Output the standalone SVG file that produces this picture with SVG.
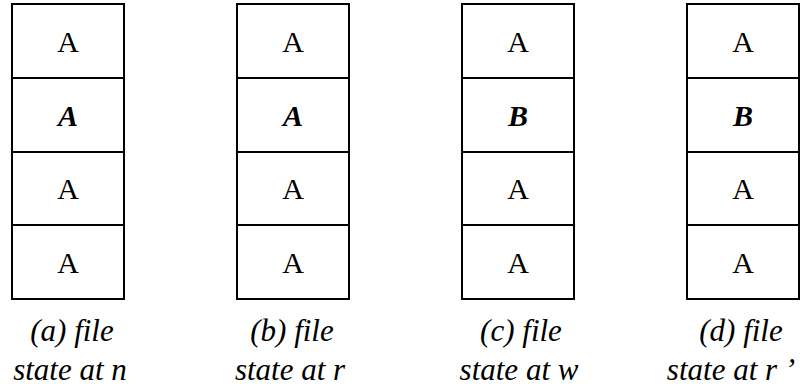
<svg xmlns="http://www.w3.org/2000/svg" width="803" height="392" viewBox="0 0 803 392">
<g id="col-a">
<g fill="#fff" stroke="#000" stroke-width="2">
<rect x="12" y="4" width="112" height="74"/>
<rect x="12" y="78" width="112" height="74"/>
<rect x="12" y="152" width="112" height="73"/>
<rect x="12" y="225" width="112" height="74"/>
</g>
<g font-family="Liberation Serif" font-size="30" text-anchor="middle" fill="#000">
<text x="68" y="52">A</text>
<text x="68" y="126" font-weight="bold" font-style="italic">A</text>
<text x="68" y="199">A</text>
<text x="68" y="273">A</text>
</g>
<g font-family="Liberation Serif" font-size="31" font-style="italic" text-anchor="middle" fill="#000">
<text x="72" y="341">(a) file</text>
<text x="70" y="380">state at n</text>
</g>
</g>
<g id="col-b">
<g fill="#fff" stroke="#000" stroke-width="2">
<rect x="237" y="4" width="112" height="74"/>
<rect x="237" y="78" width="112" height="74"/>
<rect x="237" y="152" width="112" height="73"/>
<rect x="237" y="225" width="112" height="74"/>
</g>
<g font-family="Liberation Serif" font-size="30" text-anchor="middle" fill="#000">
<text x="293" y="52">A</text>
<text x="293" y="126" font-weight="bold" font-style="italic">A</text>
<text x="293" y="199">A</text>
<text x="293" y="273">A</text>
</g>
<g font-family="Liberation Serif" font-size="31" font-style="italic" text-anchor="middle" fill="#000">
<text x="292" y="341">(b) file</text>
<text x="290" y="380">state at r</text>
</g>
</g>
<g id="col-c">
<g fill="#fff" stroke="#000" stroke-width="2">
<rect x="462" y="4" width="112" height="74"/>
<rect x="462" y="78" width="112" height="74"/>
<rect x="462" y="152" width="112" height="73"/>
<rect x="462" y="225" width="112" height="74"/>
</g>
<g font-family="Liberation Serif" font-size="30" text-anchor="middle" fill="#000">
<text x="518" y="52">A</text>
<text x="518" y="126" font-weight="bold" font-style="italic">B</text>
<text x="518" y="199">A</text>
<text x="518" y="273">A</text>
</g>
<g font-family="Liberation Serif" font-size="31" font-style="italic" text-anchor="middle" fill="#000">
<text x="521" y="341">(c) file</text>
<text x="519" y="380">state at w</text>
</g>
</g>
<g id="col-d">
<g fill="#fff" stroke="#000" stroke-width="2">
<rect x="687" y="4" width="112" height="74"/>
<rect x="687" y="78" width="112" height="74"/>
<rect x="687" y="152" width="112" height="73"/>
<rect x="687" y="225" width="112" height="74"/>
</g>
<g font-family="Liberation Serif" font-size="30" text-anchor="middle" fill="#000">
<text x="743" y="52">A</text>
<text x="743" y="126" font-weight="bold" font-style="italic">B</text>
<text x="743" y="199">A</text>
<text x="743" y="273">A</text>
</g>
<g font-family="Liberation Serif" font-size="31" font-style="italic" text-anchor="middle" fill="#000">
<text x="741" y="341">(d) file</text>
<text x="731" y="380">state at r ’</text>
</g>
</g>
</svg>
